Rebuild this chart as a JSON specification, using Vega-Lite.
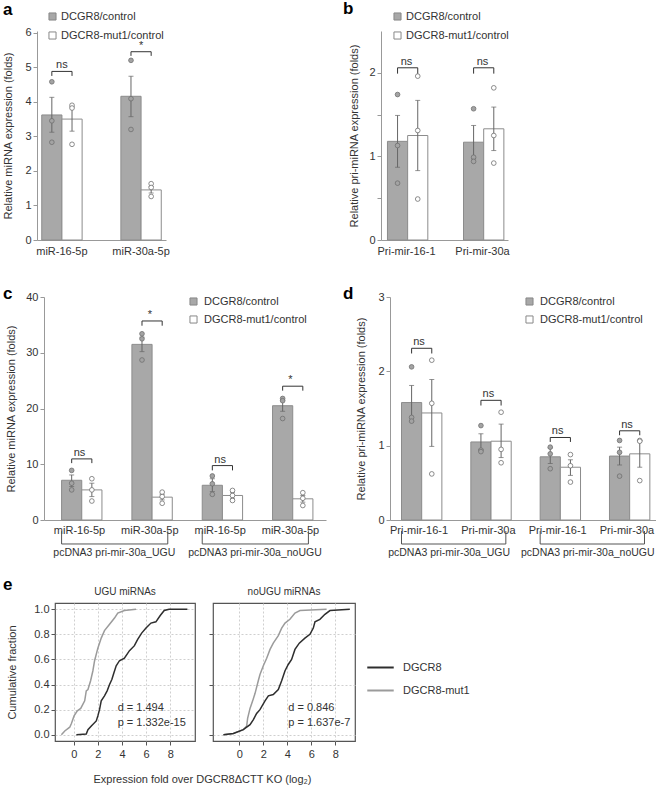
{
"$schema": "https://vega.github.io/schema/vega-lite/v6.json",
"padding": {"left": 2, "top": 0, "right": 0, "bottom": 0},
"background": "white",
"datasets": {
"a_bar": [
{"target":"miR-16-5p","group":"DCGR8/control","v":3.62,"lo":3.12,"hi":4.13},
{"target":"miR-16-5p","group":"DGCR8-mut1/control","v":3.5,"lo":3.15,"hi":3.85},
{"target":"miR-30a-5p","group":"DCGR8/control","v":4.16,"lo":3.57,"hi":4.74},
{"target":"miR-30a-5p","group":"DGCR8-mut1/control","v":1.45,"lo":1.36,"hi":1.55}],
"a_pts": [
{"target":"miR-16-5p","group":"DCGR8/control","v":4.58},{"target":"miR-16-5p","group":"DCGR8/control","v":3.45},{"target":"miR-16-5p","group":"DCGR8/control","v":2.83},
{"target":"miR-16-5p","group":"DGCR8-mut1/control","v":3.9},{"target":"miR-16-5p","group":"DGCR8-mut1/control","v":3.82},{"target":"miR-16-5p","group":"DGCR8-mut1/control","v":2.77},
{"target":"miR-30a-5p","group":"DCGR8/control","v":5.2},{"target":"miR-30a-5p","group":"DCGR8/control","v":4.09},{"target":"miR-30a-5p","group":"DCGR8/control","v":3.2},
{"target":"miR-30a-5p","group":"DGCR8-mut1/control","v":1.63},{"target":"miR-30a-5p","group":"DGCR8-mut1/control","v":1.52},{"target":"miR-30a-5p","group":"DGCR8-mut1/control","v":1.26}],
"a_sig": [
{"target":"miR-16-5p","group":"DCGR8/control","v":4.75,"ord":1},{"target":"miR-16-5p","group":"DCGR8/control","v":4.88,"ord":2},
{"target":"miR-16-5p","group":"DGCR8-mut1/control","v":4.88,"ord":3},{"target":"miR-16-5p","group":"DGCR8-mut1/control","v":4.75,"ord":4},
{"target":"miR-30a-5p","group":"DCGR8/control","v":5.33,"ord":1},{"target":"miR-30a-5p","group":"DCGR8/control","v":5.45,"ord":2},
{"target":"miR-30a-5p","group":"DGCR8-mut1/control","v":5.45,"ord":3},{"target":"miR-30a-5p","group":"DGCR8-mut1/control","v":5.33,"ord":4}],
"a_lbl": [{"target":"miR-16-5p","label":"ns","v":4.88},{"target":"miR-30a-5p","label":"*","v":5.45}],
"b_bar": [
{"target":"Pri-mir-16-1","group":"DCGR8/control","v":1.18,"lo":0.87,"hi":1.49},
{"target":"Pri-mir-16-1","group":"DGCR8-mut1/control","v":1.25,"lo":0.83,"hi":1.67},
{"target":"Pri-mir-30a","group":"DCGR8/control","v":1.17,"lo":0.97,"hi":1.37},
{"target":"Pri-mir-30a","group":"DGCR8-mut1/control","v":1.33,"lo":1.07,"hi":1.59}],
"b_pts": [
{"target":"Pri-mir-16-1","group":"DCGR8/control","v":1.74},{"target":"Pri-mir-16-1","group":"DCGR8/control","v":1.13},{"target":"Pri-mir-16-1","group":"DCGR8/control","v":0.68},
{"target":"Pri-mir-16-1","group":"DGCR8-mut1/control","v":1.96},{"target":"Pri-mir-16-1","group":"DGCR8-mut1/control","v":1.31},{"target":"Pri-mir-16-1","group":"DGCR8-mut1/control","v":0.49},
{"target":"Pri-mir-30a","group":"DCGR8/control","v":1.57},{"target":"Pri-mir-30a","group":"DCGR8/control","v":0.99},{"target":"Pri-mir-30a","group":"DCGR8/control","v":0.94},
{"target":"Pri-mir-30a","group":"DGCR8-mut1/control","v":1.82},{"target":"Pri-mir-30a","group":"DGCR8-mut1/control","v":1.25},{"target":"Pri-mir-30a","group":"DGCR8-mut1/control","v":0.92}],
"b_sig": [
{"target":"Pri-mir-16-1","group":"DCGR8/control","v":1.99,"ord":1},{"target":"Pri-mir-16-1","group":"DCGR8/control","v":2.06,"ord":2},
{"target":"Pri-mir-16-1","group":"DGCR8-mut1/control","v":2.06,"ord":3},{"target":"Pri-mir-16-1","group":"DGCR8-mut1/control","v":1.99,"ord":4},
{"target":"Pri-mir-30a","group":"DCGR8/control","v":1.99,"ord":1},{"target":"Pri-mir-30a","group":"DCGR8/control","v":2.06,"ord":2},
{"target":"Pri-mir-30a","group":"DGCR8-mut1/control","v":2.06,"ord":3},{"target":"Pri-mir-30a","group":"DGCR8-mut1/control","v":1.99,"ord":4}],
"b_lbl": [{"target":"Pri-mir-16-1","label":"ns","v":2.06},{"target":"Pri-mir-30a","label":"ns","v":2.06}],
"c_bar": [
{"target":"1|miR-16-5p","group":"DCGR8/control","v":7.13,"lo":6.0,"hi":8.08},
{"target":"1|miR-16-5p","group":"DGCR8-mut1/control","v":5.4,"lo":4.2,"hi":6.6},
{"target":"2|miR-30a-5p","group":"DCGR8/control","v":31.5,"lo":30.2,"hi":32.8},
{"target":"2|miR-30a-5p","group":"DGCR8-mut1/control","v":4.1,"lo":3.6,"hi":4.6},
{"target":"3|miR-16-5p","group":"DCGR8/control","v":6.23,"lo":5.1,"hi":7.4},
{"target":"3|miR-16-5p","group":"DGCR8-mut1/control","v":4.4,"lo":3.9,"hi":4.9},
{"target":"4|miR-30a-5p","group":"DCGR8/control","v":20.5,"lo":19.5,"hi":21.4},
{"target":"4|miR-30a-5p","group":"DGCR8-mut1/control","v":3.8,"lo":3.2,"hi":4.4}],
"c_pts": [
{"target":"1|miR-16-5p","group":"DCGR8/control","v":8.9},{"target":"1|miR-16-5p","group":"DCGR8/control","v":6.6},{"target":"1|miR-16-5p","group":"DCGR8/control","v":5.4},
{"target":"1|miR-16-5p","group":"DGCR8-mut1/control","v":7.4},{"target":"1|miR-16-5p","group":"DGCR8-mut1/control","v":5.4},{"target":"1|miR-16-5p","group":"DGCR8-mut1/control","v":3.4},
{"target":"2|miR-30a-5p","group":"DCGR8/control","v":33.4},{"target":"2|miR-30a-5p","group":"DCGR8/control","v":32.5},{"target":"2|miR-30a-5p","group":"DCGR8/control","v":28.7},
{"target":"2|miR-30a-5p","group":"DGCR8-mut1/control","v":5.0},{"target":"2|miR-30a-5p","group":"DGCR8-mut1/control","v":4.2},{"target":"2|miR-30a-5p","group":"DGCR8-mut1/control","v":3.0},
{"target":"3|miR-16-5p","group":"DCGR8/control","v":7.9},{"target":"3|miR-16-5p","group":"DCGR8/control","v":6.5},{"target":"3|miR-16-5p","group":"DCGR8/control","v":4.6},
{"target":"3|miR-16-5p","group":"DGCR8-mut1/control","v":5.3},{"target":"3|miR-16-5p","group":"DGCR8-mut1/control","v":4.4},{"target":"3|miR-16-5p","group":"DGCR8-mut1/control","v":3.5},
{"target":"4|miR-30a-5p","group":"DCGR8/control","v":21.8},{"target":"4|miR-30a-5p","group":"DCGR8/control","v":21.4},{"target":"4|miR-30a-5p","group":"DCGR8/control","v":18.2},
{"target":"4|miR-30a-5p","group":"DGCR8-mut1/control","v":4.9},{"target":"4|miR-30a-5p","group":"DGCR8-mut1/control","v":3.9},{"target":"4|miR-30a-5p","group":"DGCR8-mut1/control","v":2.6}],
"c_sig": [
{"target":"1|miR-16-5p","group":"DCGR8/control","v":10.2,"ord":1},{"target":"1|miR-16-5p","group":"DCGR8/control","v":10.96,"ord":2},
{"target":"1|miR-16-5p","group":"DGCR8-mut1/control","v":10.96,"ord":3},{"target":"1|miR-16-5p","group":"DGCR8-mut1/control","v":10.2,"ord":4},
{"target":"2|miR-30a-5p","group":"DCGR8/control","v":34.85,"ord":1},{"target":"2|miR-30a-5p","group":"DCGR8/control","v":35.7,"ord":2},
{"target":"2|miR-30a-5p","group":"DGCR8-mut1/control","v":35.7,"ord":3},{"target":"2|miR-30a-5p","group":"DGCR8-mut1/control","v":34.85,"ord":4},
{"target":"3|miR-16-5p","group":"DCGR8/control","v":8.9,"ord":1},{"target":"3|miR-16-5p","group":"DCGR8/control","v":9.76,"ord":2},
{"target":"3|miR-16-5p","group":"DGCR8-mut1/control","v":9.76,"ord":3},{"target":"3|miR-16-5p","group":"DGCR8-mut1/control","v":8.9,"ord":4},
{"target":"4|miR-30a-5p","group":"DCGR8/control","v":23.2,"ord":1},{"target":"4|miR-30a-5p","group":"DCGR8/control","v":24.0,"ord":2},
{"target":"4|miR-30a-5p","group":"DGCR8-mut1/control","v":24.0,"ord":3},{"target":"4|miR-30a-5p","group":"DGCR8-mut1/control","v":23.2,"ord":4}],
"c_lbl": [{"target":"1|miR-16-5p","label":"ns","v":10.96},{"target":"2|miR-30a-5p","label":"*","v":35.7},{"target":"3|miR-16-5p","label":"ns","v":9.76},{"target":"4|miR-30a-5p","label":"*","v":24.0}],
"c_grp": [{"from":"1|miR-16-5p","to":"2|miR-30a-5p","label":"pcDNA3 pri-mir-30a_UGU"},{"from":"3|miR-16-5p","to":"4|miR-30a-5p","label":"pcDNA3 pri-mir-30a_noUGU"}],
"d_bar": [
{"target":"1|Pri-mir-16-1","group":"DCGR8/control","v":1.58,"lo":1.33,"hi":1.81},
{"target":"1|Pri-mir-16-1","group":"DGCR8-mut1/control","v":1.44,"lo":0.99,"hi":1.89},
{"target":"2|Pri-mir-30a","group":"DCGR8/control","v":1.05,"lo":0.95,"hi":1.16},
{"target":"2|Pri-mir-30a","group":"DGCR8-mut1/control","v":1.06,"lo":0.84,"hi":1.29},
{"target":"3|Pri-mir-16-1","group":"DCGR8/control","v":0.85,"lo":0.76,"hi":0.97},
{"target":"3|Pri-mir-16-1","group":"DGCR8-mut1/control","v":0.71,"lo":0.6,"hi":0.81},
{"target":"4|Pri-mir-30a","group":"DCGR8/control","v":0.86,"lo":0.74,"hi":0.98},
{"target":"4|Pri-mir-30a","group":"DGCR8-mut1/control","v":0.89,"lo":0.71,"hi":1.07}],
"d_pts": [
{"target":"1|Pri-mir-16-1","group":"DCGR8/control","v":2.06},{"target":"1|Pri-mir-16-1","group":"DCGR8/control","v":1.38},{"target":"1|Pri-mir-16-1","group":"DCGR8/control","v":1.33},
{"target":"1|Pri-mir-16-1","group":"DGCR8-mut1/control","v":2.15},{"target":"1|Pri-mir-16-1","group":"DGCR8-mut1/control","v":1.57},{"target":"1|Pri-mir-16-1","group":"DGCR8-mut1/control","v":0.62},
{"target":"2|Pri-mir-30a","group":"DCGR8/control","v":1.27},{"target":"2|Pri-mir-30a","group":"DCGR8/control","v":0.94},{"target":"2|Pri-mir-30a","group":"DCGR8/control","v":0.92},
{"target":"2|Pri-mir-30a","group":"DGCR8-mut1/control","v":1.45},{"target":"2|Pri-mir-30a","group":"DGCR8-mut1/control","v":0.95},{"target":"2|Pri-mir-30a","group":"DGCR8-mut1/control","v":0.77},
{"target":"3|Pri-mir-16-1","group":"DCGR8/control","v":0.98},{"target":"3|Pri-mir-16-1","group":"DCGR8/control","v":0.89},{"target":"3|Pri-mir-16-1","group":"DCGR8/control","v":0.69},
{"target":"3|Pri-mir-16-1","group":"DGCR8-mut1/control","v":0.88},{"target":"3|Pri-mir-16-1","group":"DGCR8-mut1/control","v":0.73},{"target":"3|Pri-mir-16-1","group":"DGCR8-mut1/control","v":0.51},
{"target":"4|Pri-mir-30a","group":"DCGR8/control","v":1.07},{"target":"4|Pri-mir-30a","group":"DCGR8/control","v":0.91},{"target":"4|Pri-mir-30a","group":"DCGR8/control","v":0.59},
{"target":"4|Pri-mir-30a","group":"DGCR8-mut1/control","v":1.07},{"target":"4|Pri-mir-30a","group":"DGCR8-mut1/control","v":1.06},{"target":"4|Pri-mir-30a","group":"DGCR8-mut1/control","v":0.53}],
"d_sig": [
{"target":"1|Pri-mir-16-1","group":"DCGR8/control","v":2.24,"ord":1},{"target":"1|Pri-mir-16-1","group":"DCGR8/control","v":2.31,"ord":2},
{"target":"1|Pri-mir-16-1","group":"DGCR8-mut1/control","v":2.31,"ord":3},{"target":"1|Pri-mir-16-1","group":"DGCR8-mut1/control","v":2.24,"ord":4},
{"target":"2|Pri-mir-30a","group":"DCGR8/control","v":1.54,"ord":1},{"target":"2|Pri-mir-30a","group":"DCGR8/control","v":1.61,"ord":2},
{"target":"2|Pri-mir-30a","group":"DGCR8-mut1/control","v":1.61,"ord":3},{"target":"2|Pri-mir-30a","group":"DGCR8-mut1/control","v":1.54,"ord":4},
{"target":"3|Pri-mir-16-1","group":"DCGR8/control","v":1.05,"ord":1},{"target":"3|Pri-mir-16-1","group":"DCGR8/control","v":1.11,"ord":2},
{"target":"3|Pri-mir-16-1","group":"DGCR8-mut1/control","v":1.11,"ord":3},{"target":"3|Pri-mir-16-1","group":"DGCR8-mut1/control","v":1.05,"ord":4},
{"target":"4|Pri-mir-30a","group":"DCGR8/control","v":1.14,"ord":1},{"target":"4|Pri-mir-30a","group":"DCGR8/control","v":1.2,"ord":2},
{"target":"4|Pri-mir-30a","group":"DGCR8-mut1/control","v":1.2,"ord":3},{"target":"4|Pri-mir-30a","group":"DGCR8-mut1/control","v":1.14,"ord":4}],
"d_lbl": [{"target":"1|Pri-mir-16-1","label":"ns","v":2.31},{"target":"2|Pri-mir-30a","label":"ns","v":1.61},{"target":"3|Pri-mir-16-1","label":"ns","v":1.11},{"target":"4|Pri-mir-30a","label":"ns","v":1.2}],
"d_grp": [{"from":"1|Pri-mir-16-1","to":"2|Pri-mir-30a","label":"pcDNA3 pri-mir-30a_UGU"},{"from":"3|Pri-mir-16-1","to":"4|Pri-mir-30a","label":"pcDNA3 pri-mir-30a_noUGU"}],
"e1": [
{"s":"DGCR8-mut1","x":-1.02,"y":0},{"s":"DGCR8-mut1","x":-0.74,"y":0.03},{"s":"DGCR8-mut1","x":-0.33,"y":0.06},{"s":"DGCR8-mut1","x":-0.19,"y":0.09},{"s":"DGCR8-mut1","x":0.03,"y":0.15},{"s":"DGCR8-mut1","x":0.3,"y":0.19},{"s":"DGCR8-mut1","x":0.58,"y":0.21},{"s":"DGCR8-mut1","x":0.91,"y":0.27},{"s":"DGCR8-mut1","x":1.04,"y":0.35},{"s":"DGCR8-mut1","x":1.18,"y":0.36},{"s":"DGCR8-mut1","x":1.4,"y":0.43},{"s":"DGCR8-mut1","x":1.59,"y":0.51},{"s":"DGCR8-mut1","x":1.73,"y":0.59},{"s":"DGCR8-mut1","x":2.0,"y":0.69},{"s":"DGCR8-mut1","x":2.28,"y":0.77},{"s":"DGCR8-mut1","x":2.55,"y":0.83},{"s":"DGCR8-mut1","x":2.97,"y":0.88},{"s":"DGCR8-mut1","x":3.38,"y":0.93},{"s":"DGCR8-mut1","x":3.65,"y":0.97},{"s":"DGCR8-mut1","x":4.2,"y":0.99},{"s":"DGCR8-mut1","x":5.16,"y":1.0},
{"s":"DGCR8","x":0.22,"y":0},{"s":"DGCR8","x":1.04,"y":0.005},{"s":"DGCR8","x":1.18,"y":0.04},{"s":"DGCR8","x":1.46,"y":0.07},{"s":"DGCR8","x":1.87,"y":0.11},{"s":"DGCR8","x":2.0,"y":0.15},{"s":"DGCR8","x":2.14,"y":0.2},{"s":"DGCR8","x":2.28,"y":0.27},{"s":"DGCR8","x":2.55,"y":0.31},{"s":"DGCR8","x":2.77,"y":0.35},{"s":"DGCR8","x":2.97,"y":0.4},{"s":"DGCR8","x":3.16,"y":0.44},{"s":"DGCR8","x":3.32,"y":0.49},{"s":"DGCR8","x":3.52,"y":0.55},{"s":"DGCR8","x":3.79,"y":0.59},{"s":"DGCR8","x":4.2,"y":0.61},{"s":"DGCR8","x":4.62,"y":0.67},{"s":"DGCR8","x":5.03,"y":0.71},{"s":"DGCR8","x":5.3,"y":0.76},{"s":"DGCR8","x":5.63,"y":0.81},{"s":"DGCR8","x":5.99,"y":0.85},{"s":"DGCR8","x":6.4,"y":0.89},{"s":"DGCR8","x":6.81,"y":0.9},{"s":"DGCR8","x":7.17,"y":0.95},{"s":"DGCR8","x":7.5,"y":0.99},{"s":"DGCR8","x":7.9,"y":1.0},{"s":"DGCR8","x":9.42,"y":1.0}],
"e2": [
{"s":"DGCR8-mut1","x":-1.33,"y":0},{"s":"DGCR8-mut1","x":-0.5,"y":0.01},{"s":"DGCR8-mut1","x":0.33,"y":0.04},{"s":"DGCR8-mut1","x":0.61,"y":0.07},{"s":"DGCR8-mut1","x":0.69,"y":0.13},{"s":"DGCR8-mut1","x":0.89,"y":0.21},{"s":"DGCR8-mut1","x":1.11,"y":0.27},{"s":"DGCR8-mut1","x":1.31,"y":0.33},{"s":"DGCR8-mut1","x":1.58,"y":0.43},{"s":"DGCR8-mut1","x":1.72,"y":0.48},{"s":"DGCR8-mut1","x":2.0,"y":0.55},{"s":"DGCR8-mut1","x":2.28,"y":0.61},{"s":"DGCR8-mut1","x":2.56,"y":0.68},{"s":"DGCR8-mut1","x":2.83,"y":0.73},{"s":"DGCR8-mut1","x":3.25,"y":0.79},{"s":"DGCR8-mut1","x":3.53,"y":0.85},{"s":"DGCR8-mut1","x":3.81,"y":0.89},{"s":"DGCR8-mut1","x":4.22,"y":0.92},{"s":"DGCR8-mut1","x":4.64,"y":0.97},{"s":"DGCR8-mut1","x":5.06,"y":0.99},{"s":"DGCR8-mut1","x":7.28,"y":1.0},
{"s":"DGCR8","x":-1.33,"y":0},{"s":"DGCR8","x":-0.5,"y":0.01},{"s":"DGCR8","x":0.33,"y":0.04},{"s":"DGCR8","x":0.89,"y":0.08},{"s":"DGCR8","x":1.17,"y":0.12},{"s":"DGCR8","x":1.44,"y":0.17},{"s":"DGCR8","x":1.72,"y":0.2},{"s":"DGCR8","x":2.14,"y":0.27},{"s":"DGCR8","x":2.42,"y":0.31},{"s":"DGCR8","x":2.83,"y":0.32},{"s":"DGCR8","x":3.25,"y":0.36},{"s":"DGCR8","x":3.53,"y":0.43},{"s":"DGCR8","x":3.81,"y":0.51},{"s":"DGCR8","x":4.08,"y":0.56},{"s":"DGCR8","x":4.36,"y":0.6},{"s":"DGCR8","x":4.64,"y":0.68},{"s":"DGCR8","x":5.0,"y":0.73},{"s":"DGCR8","x":5.47,"y":0.77},{"s":"DGCR8","x":5.89,"y":0.8},{"s":"DGCR8","x":6.17,"y":0.85},{"s":"DGCR8","x":6.31,"y":0.9},{"s":"DGCR8","x":6.72,"y":0.92},{"s":"DGCR8","x":7.14,"y":0.96},{"s":"DGCR8","x":7.56,"y":0.99},{"s":"DGCR8","x":9.22,"y":1.0}]
},
"resolve": {"scale": {"fill": "independent", "color": "independent"}, "legend": {"fill": "independent", "color": "independent"}},
"spacing": 17,
"vconcat": [
{"spacing": 29,
 "resolve": {"scale": {"fill": "independent", "color": "independent"}, "legend": {"fill": "independent", "color": "independent"}},
 "vconcat": [
 {"bounds": "flush", "spacing": 215,
  "resolve": {"scale": {"fill": "independent", "color": "independent"}, "legend": {"fill": "independent", "color": "independent"}},
  "hconcat": [
  {"width": 129, "height": 209,
   "title": {"text": "a", "anchor": "start", "frame": "group", "fontSize": 17, "fontWeight": "bold", "baseline": "alphabetic", "dx": -34, "offset": 0, "dy": 21},
   "layer": [
    {"data": {"name": "a_bar"}, "mark": {"type": "bar", "stroke": "#8c8c8c", "strokeWidth": 1},
     "encoding": {
      "x": {"field": "target", "type": "nominal", "title": null, "scale": {"domain": ["miR-16-5p", "miR-30a-5p"], "paddingInner": 0.49, "paddingOuter": 0.06}, "axis": {"ticks": false, "labelPadding": 5}},
      "xOffset": {"field": "group", "type": "nominal", "scale": {"domain": ["DCGR8/control", "DGCR8-mut1/control"], "paddingInner": 0, "paddingOuter": 0}},
      "y": {"field": "v", "type": "quantitative", "title": "Relative miRNA expression (folds)", "scale": {"domain": [0, 6.05], "nice": false}, "axis": {"values": [0, 1, 2, 3, 4, 5, 6], "tickCount": 7, "labelOverlap": false, "labelSeparation": -30, "labelBound": false, "titlePadding": 11, "tickSize": 4}},
      "fill": {"field": "group", "type": "nominal", "scale": {"domain": ["DCGR8/control", "DGCR8-mut1/control"], "range": ["#a8a8a8", "#ffffff"]}, "legend": {"title": null, "orient": "none", "legendX": 10, "legendY": -20, "symbolType": "square", "symbolSize": 50, "symbolStrokeColor": "#888", "symbolStrokeWidth": 1, "labelOffset": 3, "rowPadding": 6}}
     }},
    {"data": {"name": "a_bar"}, "mark": {"type": "rule", "color": "#666"},
     "encoding": {
      "x": {"field": "target", "type": "nominal", "title": null},
      "xOffset": {"field": "group", "type": "nominal"},
      "y": {"field": "lo", "type": "quantitative", "title": "Relative miRNA expression (folds)"}, "y2": {"field": "hi"}}},
    {"data": {"name": "a_bar"}, "mark": {"type": "tick", "orient": "horizontal", "size": 5, "thickness": 1, "color": "#666"},
     "encoding": {"x": {"field": "target", "type": "nominal", "title": null}, "xOffset": {"field": "group", "type": "nominal"}, "y": {"field": "lo", "type": "quantitative", "title": "Relative miRNA expression (folds)"}}},
    {"data": {"name": "a_bar"}, "mark": {"type": "tick", "orient": "horizontal", "size": 5, "thickness": 1, "color": "#666"},
     "encoding": {"x": {"field": "target", "type": "nominal", "title": null}, "xOffset": {"field": "group", "type": "nominal"}, "y": {"field": "hi", "type": "quantitative", "title": "Relative miRNA expression (folds)"}}},
    {"data": {"name": "a_pts"}, "mark": {"type": "point", "shape": "circle", "filled": true, "size": 22, "stroke": "#707070", "strokeWidth": 0.8, "opacity": 1},
     "encoding": {"x": {"field": "target", "type": "nominal", "title": null}, "xOffset": {"field": "group", "type": "nominal"}, "y": {"field": "v", "type": "quantitative", "title": "Relative miRNA expression (folds)"},
      "fill": {"condition": {"test": "datum.group === 'DCGR8/control'", "value": "#a3a3a3"}, "value": "#ffffff"}}},
    {"data": {"name": "a_sig"}, "mark": {"type": "line", "color": "#333", "strokeWidth": 1},
     "encoding": {"x": {"field": "target", "type": "nominal", "title": null}, "xOffset": {"field": "group", "type": "nominal"}, "y": {"field": "v", "type": "quantitative", "title": "Relative miRNA expression (folds)"}, "detail": {"field": "target", "type": "nominal"}, "order": {"field": "ord", "type": "quantitative"}}},
    {"data": {"name": "a_lbl"}, "mark": {"type": "text", "baseline": "bottom", "dy": -1, "fontSize": 11, "color": "#333"},
     "encoding": {"x": {"field": "target", "type": "nominal", "title": null}, "y": {"field": "v", "type": "quantitative", "title": "Relative miRNA expression (folds)"}, "text": {"field": "label"}}}
   ]},
  {"width": 127, "height": 209,
   "title": {"text": "b", "anchor": "start", "frame": "group", "fontSize": 17, "fontWeight": "bold", "baseline": "alphabetic", "dx": -38, "offset": 0, "dy": 20},
   "layer": [
    {"data": {"name": "b_bar"}, "mark": {"type": "bar", "stroke": "#8c8c8c", "strokeWidth": 1},
     "encoding": {
      "x": {"field": "target", "type": "nominal", "title": null, "scale": {"domain": ["Pri-mir-16-1", "Pri-mir-30a"], "paddingInner": 0.5, "paddingOuter": 0.085}, "axis": {"ticks": false, "labelPadding": 5}},
      "xOffset": {"field": "group", "type": "nominal", "scale": {"domain": ["DCGR8/control", "DGCR8-mut1/control"], "paddingInner": 0, "paddingOuter": 0}},
      "y": {"field": "v", "type": "quantitative", "title": "Relative pri-miRNA expression (folds)", "scale": {"domain": [0, 2.5], "nice": false}, "axis": {"values": [0, 0.5, 1, 1.5, 2], "format": ".0f", "labelExpr": "datum.value % 1 === 0 ? datum.label : ''", "labelOverlap": false, "labelSeparation": -30, "titlePadding": 9, "tickSize": 4}},
      "fill": {"field": "group", "type": "nominal", "scale": {"domain": ["DCGR8/control", "DGCR8-mut1/control"], "range": ["#a8a8a8", "#ffffff"]}, "legend": {"title": null, "orient": "none", "legendX": 11, "legendY": -20, "symbolType": "square", "symbolSize": 50, "symbolStrokeColor": "#888", "symbolStrokeWidth": 1, "labelOffset": 3, "rowPadding": 6}}
     }},
    {"data": {"name": "b_bar"}, "mark": {"type": "rule", "color": "#666"},
     "encoding": {"x": {"field": "target", "type": "nominal", "title": null}, "xOffset": {"field": "group", "type": "nominal"}, "y": {"field": "lo", "type": "quantitative", "title": "Relative pri-miRNA expression (folds)"}, "y2": {"field": "hi"}}},
    {"data": {"name": "b_bar"}, "mark": {"type": "tick", "orient": "horizontal", "size": 5, "thickness": 1, "color": "#666"},
     "encoding": {"x": {"field": "target", "type": "nominal", "title": null}, "xOffset": {"field": "group", "type": "nominal"}, "y": {"field": "lo", "type": "quantitative", "title": "Relative pri-miRNA expression (folds)"}}},
    {"data": {"name": "b_bar"}, "mark": {"type": "tick", "orient": "horizontal", "size": 5, "thickness": 1, "color": "#666"},
     "encoding": {"x": {"field": "target", "type": "nominal", "title": null}, "xOffset": {"field": "group", "type": "nominal"}, "y": {"field": "hi", "type": "quantitative", "title": "Relative pri-miRNA expression (folds)"}}},
    {"data": {"name": "b_pts"}, "mark": {"type": "point", "shape": "circle", "filled": true, "size": 22, "stroke": "#707070", "strokeWidth": 0.8, "opacity": 1},
     "encoding": {"x": {"field": "target", "type": "nominal", "title": null}, "xOffset": {"field": "group", "type": "nominal"}, "y": {"field": "v", "type": "quantitative", "title": "Relative pri-miRNA expression (folds)"},
      "fill": {"condition": {"test": "datum.group === 'DCGR8/control'", "value": "#a3a3a3"}, "value": "#ffffff"}}},
    {"data": {"name": "b_sig"}, "mark": {"type": "line", "color": "#333", "strokeWidth": 1},
     "encoding": {"x": {"field": "target", "type": "nominal", "title": null}, "xOffset": {"field": "group", "type": "nominal"}, "y": {"field": "v", "type": "quantitative", "title": "Relative pri-miRNA expression (folds)"}, "detail": {"field": "target", "type": "nominal"}, "order": {"field": "ord", "type": "quantitative"}}},
    {"data": {"name": "b_lbl"}, "mark": {"type": "text", "baseline": "bottom", "dy": -1, "fontSize": 11, "color": "#333"},
     "encoding": {"x": {"field": "target", "type": "nominal", "title": null}, "y": {"field": "v", "type": "quantitative", "title": "Relative pri-miRNA expression (folds)"}, "text": {"field": "label"}}}
   ]}
  ]},
 {"bounds": "flush", "spacing": 0,
  "resolve": {"scale": {"fill": "independent", "color": "independent"}, "legend": {"fill": "independent", "color": "independent"}},
  "hconcat": [
  {"width": 7, "height": 1, "data": {"values": []}, "mark": "point", "encoding": {}},
  {"bounds": "flush", "spacing": 64,
   "resolve": {"scale": {"fill": "independent", "color": "independent"}, "legend": {"fill": "independent", "color": "independent"}},
   "hconcat": [
   {"width": 282, "height": 223,
    "title": {"text": "c", "anchor": "start", "frame": "group", "fontSize": 17, "fontWeight": "bold", "baseline": "alphabetic", "dx": -41, "offset": 0, "dy": 25},
    "layer": [
     {"data": {"name": "c_bar"}, "mark": {"type": "bar", "stroke": "#8c8c8c", "strokeWidth": 1},
      "encoding": {
       "x": {"field": "target", "type": "nominal", "title": null, "scale": {"domain": ["1|miR-16-5p", "2|miR-30a-5p", "3|miR-16-5p", "4|miR-30a-5p"], "paddingInner": 0.49, "paddingOuter": 0.25}, "axis": {"ticks": false, "labelPadding": 4, "labelExpr": "split(datum.label, '|')[1]"}},
       "xOffset": {"field": "group", "type": "nominal", "scale": {"domain": ["DCGR8/control", "DGCR8-mut1/control"], "paddingInner": 0, "paddingOuter": 0}},
       "y": {"field": "v", "type": "quantitative", "title": "Relative miRNA expression (folds)", "scale": {"domain": [0, 40], "nice": false}, "axis": {"values": [0, 10, 20, 30, 40], "labelOverlap": false, "titlePadding": 9, "tickSize": 4}},
       "fill": {"field": "group", "type": "nominal", "scale": {"domain": ["DCGR8/control", "DGCR8-mut1/control"], "range": ["#a8a8a8", "#ffffff"]}, "legend": {"title": null, "orient": "none", "legendX": 144, "legendY": -1, "symbolType": "square", "symbolSize": 50, "symbolStrokeColor": "#888", "symbolStrokeWidth": 1, "labelOffset": 5, "rowPadding": 5}}
      }},
     {"data": {"name": "c_bar"}, "mark": {"type": "rule", "color": "#666"},
      "encoding": {"x": {"field": "target", "type": "nominal", "title": null}, "xOffset": {"field": "group", "type": "nominal"}, "y": {"field": "lo", "type": "quantitative", "title": "Relative miRNA expression (folds)"}, "y2": {"field": "hi"}}},
     {"data": {"name": "c_bar"}, "mark": {"type": "tick", "orient": "horizontal", "size": 5, "thickness": 1, "color": "#666"},
      "encoding": {"x": {"field": "target", "type": "nominal", "title": null}, "xOffset": {"field": "group", "type": "nominal"}, "y": {"field": "lo", "type": "quantitative", "title": "Relative miRNA expression (folds)"}}},
     {"data": {"name": "c_bar"}, "mark": {"type": "tick", "orient": "horizontal", "size": 5, "thickness": 1, "color": "#666"},
      "encoding": {"x": {"field": "target", "type": "nominal", "title": null}, "xOffset": {"field": "group", "type": "nominal"}, "y": {"field": "hi", "type": "quantitative", "title": "Relative miRNA expression (folds)"}}},
     {"data": {"name": "c_pts"}, "mark": {"type": "point", "shape": "circle", "filled": true, "size": 22, "stroke": "#707070", "strokeWidth": 0.8, "opacity": 1},
      "encoding": {"x": {"field": "target", "type": "nominal", "title": null}, "xOffset": {"field": "group", "type": "nominal"}, "y": {"field": "v", "type": "quantitative", "title": "Relative miRNA expression (folds)"},
       "fill": {"condition": {"test": "datum.group === 'DCGR8/control'", "value": "#a3a3a3"}, "value": "#ffffff"}}},
     {"data": {"name": "c_sig"}, "mark": {"type": "line", "color": "#333", "strokeWidth": 1},
      "encoding": {"x": {"field": "target", "type": "nominal", "title": null}, "xOffset": {"field": "group", "type": "nominal"}, "y": {"field": "v", "type": "quantitative", "title": "Relative miRNA expression (folds)"}, "detail": {"field": "target", "type": "nominal"}, "order": {"field": "ord", "type": "quantitative"}}},
     {"data": {"name": "c_lbl"}, "mark": {"type": "text", "baseline": "bottom", "dy": -1, "fontSize": 11, "color": "#333"},
      "encoding": {"x": {"field": "target", "type": "nominal", "title": null}, "y": {"field": "v", "type": "quantitative", "title": "Relative miRNA expression (folds)"}, "text": {"field": "label"}}},
     {"data": {"name": "c_grp"}, "mark": {"type": "rule", "color": "#555", "strokeWidth": 1},
      "encoding": {"x": {"field": "from", "type": "nominal", "bandPosition": 0, "title": null}, "x2": {"field": "to", "bandPosition": 1}, "y": {"datum": -4.3}}},
     {"data": {"name": "c_grp"}, "mark": {"type": "rule", "color": "#555", "strokeWidth": 1},
      "encoding": {"x": {"field": "from", "type": "nominal", "bandPosition": 0, "title": null}, "y": {"datum": -2.0}, "y2": {"datum": -4.3}}},
     {"data": {"name": "c_grp"}, "mark": {"type": "rule", "color": "#555", "strokeWidth": 1},
      "encoding": {"x": {"field": "to", "type": "nominal", "bandPosition": 1, "title": null}, "y": {"datum": -2.0}, "y2": {"datum": -4.3}}},
     {"data": {"name": "c_grp"}, "mark": {"type": "text", "baseline": "top", "dy": 4, "fontSize": 10.5, "color": "#333"},
      "encoding": {"x": {"field": "from", "type": "nominal", "bandPosition": 1.47, "title": null}, "y": {"datum": -4.3}, "text": {"field": "label"}}}
    ]},
   {"width": 266, "height": 223,
    "title": {"text": "d", "anchor": "start", "frame": "group", "fontSize": 17, "fontWeight": "bold", "baseline": "alphabetic", "dx": -47, "offset": 0, "dy": 25},
    "layer": [
     {"data": {"name": "d_bar"}, "mark": {"type": "bar", "stroke": "#8c8c8c", "strokeWidth": 1},
      "encoding": {
       "x": {"field": "target", "type": "nominal", "title": null, "scale": {"domain": ["1|Pri-mir-16-1", "2|Pri-mir-30a", "3|Pri-mir-16-1", "4|Pri-mir-30a"], "paddingInner": 0.495, "paddingOuter": 0.166}, "axis": {"ticks": false, "labelPadding": 4, "labelExpr": "split(datum.label, '|')[1]"}},
       "xOffset": {"field": "group", "type": "nominal", "scale": {"domain": ["DCGR8/control", "DGCR8-mut1/control"], "paddingInner": 0, "paddingOuter": 0}},
       "y": {"field": "v", "type": "quantitative", "title": "Relative pri-miRNA expression (folds)", "scale": {"domain": [0, 3], "nice": false}, "axis": {"values": [0, 0.5, 1, 1.5, 2, 2.5, 3], "format": ".0f", "labelExpr": "datum.value % 1 === 0 ? datum.label : ''", "labelOverlap": false, "labelSeparation": -30, "titlePadding": 11, "tickSize": 4}},
       "fill": {"field": "group", "type": "nominal", "scale": {"domain": ["DCGR8/control", "DGCR8-mut1/control"], "range": ["#a8a8a8", "#ffffff"]}, "legend": {"title": null, "orient": "none", "legendX": 134, "legendY": -1, "symbolType": "square", "symbolSize": 50, "symbolStrokeColor": "#888", "symbolStrokeWidth": 1, "labelOffset": 5, "rowPadding": 5}}
      }},
     {"data": {"name": "d_bar"}, "mark": {"type": "rule", "color": "#666"},
      "encoding": {"x": {"field": "target", "type": "nominal", "title": null}, "xOffset": {"field": "group", "type": "nominal"}, "y": {"field": "lo", "type": "quantitative", "title": "Relative pri-miRNA expression (folds)"}, "y2": {"field": "hi"}}},
     {"data": {"name": "d_bar"}, "mark": {"type": "tick", "orient": "horizontal", "size": 5, "thickness": 1, "color": "#666"},
      "encoding": {"x": {"field": "target", "type": "nominal", "title": null}, "xOffset": {"field": "group", "type": "nominal"}, "y": {"field": "lo", "type": "quantitative", "title": "Relative pri-miRNA expression (folds)"}}},
     {"data": {"name": "d_bar"}, "mark": {"type": "tick", "orient": "horizontal", "size": 5, "thickness": 1, "color": "#666"},
      "encoding": {"x": {"field": "target", "type": "nominal", "title": null}, "xOffset": {"field": "group", "type": "nominal"}, "y": {"field": "hi", "type": "quantitative", "title": "Relative pri-miRNA expression (folds)"}}},
     {"data": {"name": "d_pts"}, "mark": {"type": "point", "shape": "circle", "filled": true, "size": 22, "stroke": "#707070", "strokeWidth": 0.8, "opacity": 1},
      "encoding": {"x": {"field": "target", "type": "nominal", "title": null}, "xOffset": {"field": "group", "type": "nominal"}, "y": {"field": "v", "type": "quantitative", "title": "Relative pri-miRNA expression (folds)"},
       "fill": {"condition": {"test": "datum.group === 'DCGR8/control'", "value": "#a3a3a3"}, "value": "#ffffff"}}},
     {"data": {"name": "d_sig"}, "mark": {"type": "line", "color": "#333", "strokeWidth": 1},
      "encoding": {"x": {"field": "target", "type": "nominal", "title": null}, "xOffset": {"field": "group", "type": "nominal"}, "y": {"field": "v", "type": "quantitative", "title": "Relative pri-miRNA expression (folds)"}, "detail": {"field": "target", "type": "nominal"}, "order": {"field": "ord", "type": "quantitative"}}},
     {"data": {"name": "d_lbl"}, "mark": {"type": "text", "baseline": "bottom", "dy": -1, "fontSize": 11, "color": "#333"},
      "encoding": {"x": {"field": "target", "type": "nominal", "title": null}, "y": {"field": "v", "type": "quantitative", "title": "Relative pri-miRNA expression (folds)"}, "text": {"field": "label"}}},
     {"data": {"name": "d_grp"}, "mark": {"type": "rule", "color": "#555", "strokeWidth": 1},
      "encoding": {"x": {"field": "from", "type": "nominal", "bandPosition": 0, "title": null}, "x2": {"field": "to", "bandPosition": 1}, "y": {"datum": -0.323}}},
     {"data": {"name": "d_grp"}, "mark": {"type": "rule", "color": "#555", "strokeWidth": 1},
      "encoding": {"x": {"field": "from", "type": "nominal", "bandPosition": 0, "title": null}, "y": {"datum": -0.148}, "y2": {"datum": -0.323}}},
     {"data": {"name": "d_grp"}, "mark": {"type": "rule", "color": "#555", "strokeWidth": 1},
      "encoding": {"x": {"field": "to", "type": "nominal", "bandPosition": 1, "title": null}, "y": {"datum": -0.148}, "y2": {"datum": -0.323}}},
     {"data": {"name": "d_grp"}, "mark": {"type": "text", "baseline": "top", "dy": 4, "fontSize": 10.5, "color": "#333"},
      "encoding": {"x": {"field": "from", "type": "nominal", "bandPosition": 1.36, "title": null}, "y": {"datum": -0.323}, "text": {"field": "label"}}}
    ]}
   ]}
  ]}
 ]},
{"bounds": "flush", "spacing": 0,
 "resolve": {"scale": {"fill": "independent", "color": "independent"}, "legend": {"fill": "independent", "color": "independent"}},
 "hconcat": [
 {"width": 18, "height": 1, "data": {"values": []}, "mark": "point", "encoding": {}},
 {"bounds": "flush", "spacing": 18,
  "resolve": {"scale": {"fill": "independent", "color": "independent"}, "legend": {"fill": "independent", "color": "independent"}},
  "title": {"text": "e", "anchor": "start", "frame": "group", "fontSize": 17, "fontWeight": "bold", "baseline": "alphabetic", "dx": -52, "offset": 0, "dy": 21},
  "hconcat": [
  {"width": 140, "height": 138,
   "view": {"stroke": "#555", "strokeWidth": 1.2},
   "title": {"text": "UGU miRNAs", "fontSize": 10, "fontWeight": "normal", "offset": 6, "color": "#333"},
   "layer": [
    {"data": {"name": "e1"}, "mark": {"type": "line", "strokeWidth": 1.5},
     "encoding": {
      "x": {"field": "x", "type": "quantitative", "title": "Expression fold over DGCR8ΔCTT KO (log₂)", "scale": {"domain": [-1.55, 10.05], "nice": false, "zero": false}, "axis": {"values": [0, 2, 4, 6, 8], "tickCount": 5, "labelOverlap": false, "labelSeparation": -30, "labelBound": false, "grid": true, "gridDash": [2, 2], "gridColor": "#cfcfcf", "domain": false, "tickSize": 4, "tickColor": "#555", "labelPadding": 3, "titleX": 147, "titleY": 41, "titleBaseline": "alphabetic", "titleAlign": "center"}},
      "y": {"field": "y", "type": "quantitative", "title": "Cumulative fraction", "scale": {"domain": [-0.05, 1.05], "nice": false, "zero": false}, "axis": {"values": [0, 0.2, 0.4, 0.6, 0.8, 1], "tickCount": 6, "format": ".1f", "labelOverlap": false, "labelSeparation": -30, "labelBound": false, "grid": true, "gridDash": [2, 2], "gridColor": "#cfcfcf", "domain": false, "tickSize": 4, "tickColor": "#555", "titlePadding": 16}},
      "color": {"field": "s", "type": "nominal", "scale": {"domain": ["DGCR8", "DGCR8-mut1"], "range": ["#2e2e2e", "#9b9b9b"]}, "legend": null}
     }},
    {"data": {"values": [{}]}, "mark": {"type": "text", "text": ["d = 1.494", "p = 1.332e-15"], "align": "left", "baseline": "top", "fontSize": 11, "lineHeight": 15, "color": "#333"},
     "encoding": {"x": {"datum": 3.64}, "y": {"datum": 0.26}}}
   ]},
  {"width": 142, "height": 138,
   "view": {"stroke": "#555", "strokeWidth": 1.2},
   "title": {"text": "noUGU miRNAs", "fontSize": 10, "fontWeight": "normal", "offset": 6, "color": "#333"},
   "layer": [
    {"data": {"name": "e2"}, "mark": {"type": "line", "strokeWidth": 1.5},
     "encoding": {
      "x": {"field": "x", "type": "quantitative", "title": null, "scale": {"domain": [-2.2, 9.65], "nice": false, "zero": false}, "axis": {"values": [0, 2, 4, 6, 8], "tickCount": 5, "labelOverlap": false, "labelSeparation": -30, "labelBound": false, "grid": true, "gridDash": [2, 2], "gridColor": "#cfcfcf", "domain": false, "tickSize": 4, "tickColor": "#555", "labelPadding": 3}},
      "y": {"field": "y", "type": "quantitative", "title": null, "scale": {"domain": [-0.05, 1.05], "nice": false, "zero": false}, "axis": {"values": [0, 0.2, 0.4, 0.6, 0.8, 1], "labels": false, "grid": true, "gridDash": [2, 2], "gridColor": "#cfcfcf", "domain": false, "tickSize": 4, "tickColor": "#555"}},
      "color": {"field": "s", "type": "nominal", "scale": {"domain": ["DGCR8", "DGCR8-mut1"], "range": ["#2e2e2e", "#9b9b9b"]}, "legend": {"title": null, "orient": "none", "legendX": 153, "legendY": 50, "symbolType": "stroke", "symbolSize": 700, "symbolStrokeWidth": 2, "labelOffset": 8, "rowPadding": 3, "labelFontSize": 11}}
     }},
    {"data": {"values": [{}]}, "mark": {"type": "text", "text": ["d = 0.846", "p = 1.637e-7"], "align": "left", "baseline": "top", "fontSize": 11, "lineHeight": 15, "color": "#333"},
     "encoding": {"x": {"datum": 4.08}, "y": {"datum": 0.26}}}
   ]}
  ]}
 ]}
],
"config": {
 "font": "Liberation Sans",
 "view": {"stroke": null},
 "axis": {"labelFontSize": 11, "titleFontSize": 11, "titleFontWeight": "normal", "labelColor": "#333", "titleColor": "#333", "domainColor": "#999", "tickColor": "#999", "grid": false, "labelFont": "Liberation Sans", "titleFont": "Liberation Sans"},
 "axisX": {"labelAngle": 0},
 "legend": {"labelFontSize": 11, "labelColor": "#333", "padding": 0, "labelFont": "Liberation Sans"},
 "title": {"color": "#000", "font": "Liberation Sans"},
 "text": {"font": "Liberation Sans"}
}
}
